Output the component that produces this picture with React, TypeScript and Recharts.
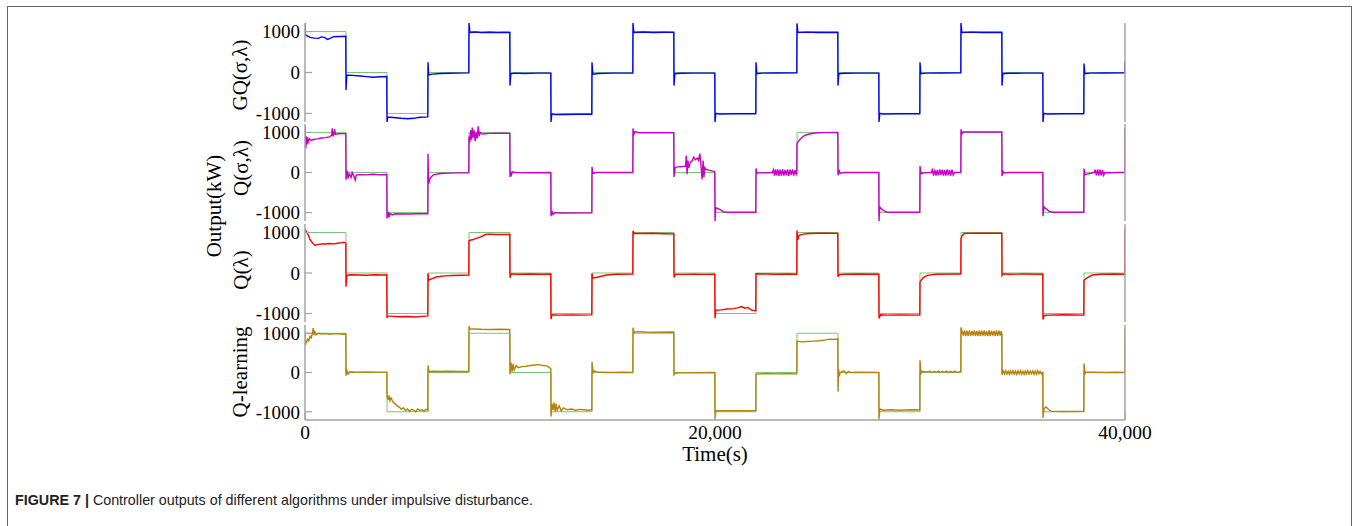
import React from 'react';
import { LineChart, Line, XAxis, YAxis } from 'recharts';

type P = [number, number];

// Reference (green) step levels, one per 2000 s interval
const REF_LEVELS = [1000, 0, -1000, 0, 1000, 0, -1000, 0, 1000, 0, -1000, 0, 1000, 0, -1000, 0, 1000, 0, -1000, 0];
const STEP = 2000;

const X_TICKS = [0, 20000, 40000];
const X_TICK_LABELS = ['0', '20,000', '40,000'];
const Y_TICKS = [-1000, 0, 1000];

const gqPts: P[] = [
  [0, 1210], [20, 920], [250, 860], [450, 840], [650, 835], [800, 870], [950, 860], [1100, 810], [1250, 840], [1400, 875], [1700, 880], [1990, 885],
  [2000, -430], [2040, -60], [2300, -70], [2700, -85], [3000, -100], [3300, -115], [3700, -105], [3990, -100],
  [4000, -1210], [4040, -1090], [4300, -1100], [4700, -1120], [5000, -1130], [5300, -1120], [5600, -1095], [5990, -1085],
  [6000, 250], [6030, -60], [6200, -40], [6600, -25], [7000, -20], [7500, -15], [7990, -10],
  [8000, 1210], [8040, 980], [8300, 990], [8600, 975], [9000, 985], [9400, 975], [9700, 982], [9990, 975],
  [10000, -320], [10040, -30], [10200, -15], [10700, -25], [11300, -15], [11990, -15],
  [12000, -1210], [12040, -1010], [12200, -1030], [12600, -1025], [13300, -1020], [13990, -1020],
  [14000, 250], [14040, -40], [14300, -25], [15000, -15], [15990, -15],
  [16000, 1210], [16040, 980], [16500, 990], [17000, 978], [17500, 985], [17990, 980],
  [18000, -320], [18040, -30], [18300, -20], [19000, -15], [19990, -15],
  [20000, -1210], [20040, -1000], [20200, -1015], [21000, -1010], [21990, -1010],
  [22000, 250], [22040, -30], [22300, -15], [23000, -12], [23990, -10],
  [24000, 1200], [24040, 975], [24500, 988], [25000, 978], [25990, 980],
  [26000, -320], [26040, -30], [26300, -20], [27000, -15], [27990, -15],
  [28000, -1210], [28040, -1000], [28200, -1015], [29000, -1010], [29990, -1010],
  [30000, 250], [30040, -30], [30300, -15], [31000, -12], [31990, -10],
  [32000, 1210], [32040, 975], [32500, 988], [33000, 978], [33990, 980],
  [34000, -320], [34040, -30], [34300, -20], [35000, -15], [35990, -15],
  [36000, -1210], [36040, -1000], [36200, -1015], [37000, -1010], [37990, -1010],
  [38000, 220], [38040, -30], [38300, -15], [39000, -12], [39990, -10],
  [40000, 250],
];

const qslPts: P[] = [
  [0, 1150], [10, 850], [40, 600], [60, 900], [90, 700], [120, 880], [160, 760], [220, 840], [300, 800], [450, 830], [600, 840], [800, 860], [1000, 870], [1200, 890], [1300, 930], [1330, 1100], [1360, 900], [1400, 960], [1450, 1080], [1480, 950], [1600, 965], [1800, 970], [1990, 970],
  [2000, -180], [2050, 50], [2100, -150], [2150, -30], [2250, -120], [2300, 0], [2380, -90], [2450, -190], [2500, -60], [2700, -55], [3000, -60], [3300, -45], [3600, -55], [3990, -50],
  [4000, -1150], [4060, -980], [4100, -1120], [4150, -1020], [4250, -1060], [4400, -1030], [5000, -1035], [5500, -1030], [5990, -1030],
  [6000, 470], [6030, -280], [6100, -150], [6250, -60], [6600, -25], [7000, -15], [7500, -10], [7990, -5],
  [8000, 900], [8040, 750], [8080, 1050], [8120, 820], [8160, 1120], [8200, 870], [8250, 1050], [8300, 780], [8350, 1000], [8400, 850], [8450, 1150], [8500, 900], [8550, 1000], [8650, 960], [9000, 975], [9500, 980], [9990, 975],
  [10000, -110], [10040, 30], [10070, -60], [10120, 10], [10300, 0], [11000, -5], [11990, 0],
  [12000, -1090], [12050, -960], [12100, -1050], [12200, -1000], [12400, -1010], [13990, -1005],
  [14000, 140], [14040, -20], [14200, 0], [15990, 0],
  [16000, 1100], [16040, 950], [16100, 1020], [16300, 990], [17990, 990],
  [18000, -110], [18060, 130], [18200, 140], [18400, 150], [18560, 160], [18600, 420], [18640, -40], [18680, 300], [18720, 120], [18800, 260], [18900, 300], [18950, 380], [19050, 320], [19130, 360], [19200, 300], [19260, 470], [19300, 280], [19370, -170], [19420, 300], [19460, -120], [19500, 120], [19560, 80], [19700, 60], [19850, 40], [19990, 20],
  [20000, -1210], [20040, -880], [20150, -900], [20300, -940], [20400, -980], [20600, -990], [21990, -990],
  [22000, 100], [22050, -20], [22150, -10], [22500, -5], [22800, 0], [22850, 70], [22900, -80], [22950, 75], [23000, -70], [23060, 80], [23120, -85], [23180, 70], [23240, -75], [23300, 80], [23360, -80], [23420, 65], [23480, -70], [23540, 75], [23600, -85], [23660, 70], [23720, -60], [23780, 75], [23840, -80], [23900, 60], [23960, -50], [23990, 0],
  [24000, 720], [24100, 800], [24250, 880], [24400, 930], [24600, 960], [24900, 985], [25300, 995], [25990, 1000],
  [26000, -70], [26060, 40], [26100, -20], [26300, 0], [27990, 0],
  [28000, -1210], [28040, -860], [28100, -900], [28250, -960], [28400, -990], [29990, -990],
  [30000, 160], [30050, -30], [30200, -5], [30550, 0], [30600, 70], [30660, -75], [30720, 70], [30780, -80], [30840, 60], [30900, -70], [30960, 75], [31020, -60], [31080, 70], [31140, -75], [31200, 60], [31260, -80], [31320, 75], [31380, -70], [31440, 65], [31500, -75], [31560, 70], [31620, -60], [31680, 0], [31990, 0],
  [32000, 1080], [32040, 960], [32100, 1010], [32400, 1010], [33990, 1010],
  [34000, -90], [34050, 30], [34100, -10], [34300, 0], [35990, 0],
  [36000, -1090], [36050, -860], [36120, -890], [36300, -970], [36500, -990], [37990, -990],
  [38000, 100], [38040, -60], [38150, -40], [38350, -20], [38500, 0], [38540, 70], [38600, -70], [38660, 75], [38720, -75], [38780, 70], [38840, -80], [38900, 65], [38960, -70], [39020, 0], [39300, -5], [39700, 0], [39990, 0],
  [40000, 1100],
];

const qlPts: P[] = [
  [0, 1080], [50, 1040], [150, 950], [250, 820], [400, 720], [500, 680], [600, 700], [800, 720], [1000, 715], [1200, 730], [1400, 720], [1600, 735], [1800, 750], [1900, 760], [1990, 735],
  [2000, -340], [2040, -60], [2200, -45], [2600, -50], [3000, -55], [3400, -45], [3800, -50], [3990, -50],
  [4000, -1110], [4050, -1060], [4300, -1070], [4600, -1080], [5000, -1075], [5400, -1085], [5700, -1070], [5990, -1060],
  [6000, -10], [6030, -180], [6150, -150], [6400, -100], [6800, -70], [7200, -60], [7600, -55], [7990, -50],
  [8000, 800], [8150, 820], [8400, 860], [8600, 900], [8800, 950], [9000, 960], [9300, 950], [9600, 955], [9990, 950],
  [10000, -120], [10050, -20], [10300, -30], [11000, -25], [11600, -30], [11990, -25],
  [12000, -1140], [12050, -1030], [12400, -1040], [13000, -1035], [13600, -1040], [13990, -1035],
  [14000, -10], [14030, -130], [14300, -100], [14700, -50], [15200, -30], [15990, -25],
  [16000, 1040], [16050, 980], [16500, 975], [17000, 980], [17500, 970], [17990, 965],
  [18000, -110], [18050, -30], [18500, -35], [19000, -30], [19500, -35], [19990, -30],
  [20000, -1120], [20040, -920], [20300, -910], [20600, -890], [20900, -880], [21100, -860], [21300, -830], [21450, -870], [21600, -850], [21800, -920], [21990, -930],
  [22000, -20], [22500, -25], [23000, -30], [23500, -25], [23990, -30],
  [24000, 1050], [24040, 820], [24100, 930], [24300, 960], [24600, 975], [25000, 980], [25500, 985], [25990, 980],
  [26000, -100], [26060, -40], [26300, -30], [27000, -25], [27990, -30],
  [28000, -1120], [28080, -1030], [28400, -1040], [29000, -1035], [29990, -1040],
  [30000, -220], [30150, -120], [30350, -60], [30800, -30], [31500, -25], [31990, -25],
  [32000, 850], [32060, 920], [32150, 975], [32600, 985], [33200, 980], [33990, 985],
  [34000, -60], [34050, -20], [34300, -30], [35000, -25], [35990, -30],
  [36000, -1150], [36060, -1050], [36300, -1040], [37000, -1030], [37990, -1040],
  [38000, -180], [38150, -120], [38400, -50], [38800, -30], [39400, -25], [39990, -30],
  [40000, 1090],
];

const qlearnPts: P[] = [
  [0, 1000], [10, 700], [60, 760], [120, 850], [180, 800], [240, 920], [300, 880], [360, 1000], [400, 1130], [430, 950], [480, 1040], [540, 960], [650, 1000], [800, 980], [1000, 990], [1200, 975], [1400, 985], [1600, 990], [1800, 975], [1990, 980],
  [2000, -80], [2050, 40], [2100, -40], [2200, 20], [2500, 10], [3000, 15], [3500, 10], [3990, 10],
  [4000, -600], [4060, -700], [4100, -580], [4150, -720], [4200, -650], [4300, -760], [4400, -800], [4500, -850], [4600, -880], [4700, -940], [4800, -900], [4900, -970], [5000, -930], [5100, -990], [5200, -940], [5300, -960], [5400, -1000], [5500, -930], [5600, -970], [5700, -950], [5800, -990], [5900, -940], [5990, -960],
  [6000, 180], [6050, 20], [6200, 30], [6600, 25], [7000, 30], [7500, 25], [7990, 30],
  [8000, 1180], [8050, 1100], [8200, 1110], [8600, 1100], [9000, 1095], [9500, 1100], [9990, 1095],
  [10000, -50], [10050, 250], [10100, 20], [10150, 220], [10200, 60], [10300, 180], [10400, 120], [10600, 150], [10800, 160], [11000, 180], [11200, 190], [11400, 200], [11600, 180], [11800, 170], [11990, 100],
  [12000, -1120], [12050, -800], [12100, -950], [12150, -760], [12200, -1000], [12250, -800], [12300, -960], [12400, -850], [12500, -980], [12600, -900], [12800, -950], [13000, -930], [13200, -960], [13400, -940], [13600, -950], [13800, -960], [13990, -950],
  [14000, 270], [14050, 0], [14100, 40], [14300, 5], [15000, 0], [15600, 5], [15990, 0],
  [16000, 1140], [16050, 1020], [16200, 1040], [16600, 1030], [17200, 1025], [17990, 1030],
  [18000, -60], [18060, -20], [18300, -10], [19000, -5], [19990, 0],
  [20000, -1190], [20040, -970], [20400, -975], [21000, -970], [21600, -975], [21990, -970],
  [22000, -40], [22500, -30], [23000, -35], [23500, -30], [23990, -35],
  [24000, 800], [24200, 780], [24500, 790], [24800, 800], [25100, 810], [25400, 830], [25600, 850], [25800, 840], [25990, 860],
  [26000, -490], [26030, 80], [26060, -100], [26100, 0], [26300, 40], [26400, -30], [26500, 30], [26600, 0], [27000, 5], [27990, 0],
  [28000, -1190], [28040, -930], [28200, -960], [28600, -950], [29000, -960], [29600, -950], [29990, -955],
  [30000, 310], [30050, -20], [30100, 30], [30300, 15], [30500, 35], [30600, 0], [30700, 30], [30800, 5], [30900, 35], [31000, 0], [31100, 30], [31200, 5], [31300, 35], [31400, 0], [31500, 30], [31600, 5], [31700, 35], [31800, 0], [31990, 20],
  [32000, 1150], [32060, 1040], [32110, 940], [32170, 1070], [32230, 930], [32290, 1065], [32350, 935], [32410, 1070], [32470, 925], [32530, 1060], [32590, 940], [32650, 1075], [32710, 930], [32770, 1060], [32830, 935], [32890, 1070], [32950, 930], [33010, 1065], [33070, 940], [33130, 1070], [33190, 925], [33250, 1060], [33310, 935], [33370, 1070], [33430, 930], [33490, 1065], [33550, 940], [33610, 1060], [33670, 930], [33730, 1070], [33790, 935], [33850, 1065], [33910, 940], [33960, 1050], [33990, 990],
  [34000, -60], [34060, 40], [34120, -35], [34180, 45], [34240, -40], [34300, 35], [34360, -45], [34420, 40], [34480, -30], [34540, 45], [34600, -40], [34660, 35], [34720, -45], [34780, 40], [34840, -35], [34900, 45], [34960, -40], [35020, 30], [35080, -45], [35140, 40], [35200, -35], [35260, 45], [35320, -40], [35380, 35], [35440, -30], [35500, 40], [35560, -45], [35620, 35], [35680, -40], [35740, 45], [35800, -35], [35860, 30], [35920, -40], [35990, 0],
  [36000, -1160], [36050, -920], [36150, -880], [36250, -930], [36400, -990], [37000, -995], [37990, -990],
  [38000, 230], [38050, -30], [38100, 10], [38400, 5], [39000, 0], [39600, 5], [39990, 0],
  [40000, 1110],
];

const toData = (pts: P[]) => pts.map(([t, v]) => ({ t, v }));
const refData = REF_LEVELS.flatMap((v, i) => [{ t: i * STEP, v }, { t: (i + 1) * STEP, v }]);

const SERIF = '"Liberation Serif", "Times New Roman", Times, serif';
const BORDER = '#a3a3a3';
const GREEN = '#74c874';
const PAD = 12;

type PanelProps = { top: number; h: number; pts: P[]; color: string; last?: boolean };

function Panel({ top, h, pts, color, last }: PanelProps) {
  const bottomH = last ? 45 : 0;
  return (
    <div style={{ position: 'absolute', left: 0, top: top - PAD }}>
      <LineChart width={1356} height={h + bottomH + 2 * PAD} margin={{ top: PAD, right: 0, bottom: PAD, left: 0 }}>
        <XAxis
          xAxisId="b"
          dataKey="t"
          type="number"
          domain={[0, 40000]}
          ticks={X_TICKS}
          interval={0}
          tickFormatter={(v: number) => X_TICK_LABELS[X_TICKS.indexOf(v)] ?? String(v)}
          height={bottomH}
          tickSize={-7}
          tickMargin={12}
          tick={last ? { fill: '#000', fontSize: 19.5, fontFamily: SERIF } : false}
          axisLine={{ stroke: BORDER, strokeWidth: 1.5 }}
          tickLine={{ stroke: BORDER, strokeWidth: 1.2 }}
          allowDataOverflow
        />
        <XAxis
          xAxisId="t"
          orientation="top"
          type="number"
          domain={[0, 40000]}
          ticks={X_TICKS}
          interval={0}
          height={0}
          tickSize={-7}
          tick={false}
          axisLine={{ stroke: BORDER, strokeWidth: 1.5 }}
          tickLine={{ stroke: BORDER, strokeWidth: 1.2 }}
          allowDataOverflow
        />
        <YAxis
          yAxisId="l"
          type="number"
          domain={[-1210, 1210]}
          ticks={Y_TICKS}
          interval={0}
          width={305}
          tickSize={-7}
          tickMargin={12}
          tick={{ fill: '#000', fontSize: 19, fontFamily: SERIF }}
          axisLine={{ stroke: BORDER, strokeWidth: 1.5 }}
          tickLine={{ stroke: BORDER, strokeWidth: 1.2 }}
          allowDataOverflow
        />
        <YAxis
          yAxisId="r"
          orientation="right"
          type="number"
          domain={[-1210, 1210]}
          ticks={Y_TICKS}
          interval={0}
          width={231}
          tickSize={-7}
          tick={false}
          axisLine={{ stroke: BORDER, strokeWidth: 1.5 }}
          tickLine={{ stroke: BORDER, strokeWidth: 1.2 }}
          allowDataOverflow
        />
        <Line xAxisId="b" yAxisId="l" data={refData} dataKey="v" type="linear" stroke={GREEN} strokeWidth={1} dot={false} activeDot={false} isAnimationActive={false} />
        <Line xAxisId="b" yAxisId="l" data={toData(pts)} dataKey="v" type="linear" stroke={color} strokeWidth={1.4} dot={false} activeDot={false} isAnimationActive={false} />
      </LineChart>
    </div>
  );
}

export default function App() {
  const titleStyle = { fontFamily: SERIF, fontSize: 21, fill: '#000' } as const;
  return (
    <div style={{ position: 'absolute', left: 0, top: 0, width: 1356, height: 526, overflow: 'hidden', background: '#fff' }}>
      <div style={{ position: 'absolute', left: 7, top: 6, width: 1345, height: 520, boxSizing: 'border-box', borderLeft: '1px solid #666', borderTop: '1px solid #666', borderRight: '1px solid #666' }} />
      <Panel top={23} h={99} pts={gqPts} color="#0000ff" />
      <Panel top={124} h={97} pts={qslPts} color="#c800c8" />
      <Panel top={224} h={98} pts={qlPts} color="#ff0000" />
      <Panel top={325} h={95} pts={qlearnPts} color="#b8800c" last />
      <svg width={1356} height={526} style={{ position: 'absolute', left: 0, top: 0, pointerEvents: 'none' }}>
        <text {...titleStyle} transform="translate(240,75) rotate(-90)" textAnchor="middle" dominantBaseline="central">GQ(σ,λ)</text>
        <text {...titleStyle} transform="translate(241,168) rotate(-90)" textAnchor="middle" dominantBaseline="central">Q(σ,λ)</text>
        <text {...titleStyle} transform="translate(214,206) rotate(-90)" textAnchor="middle" dominantBaseline="central">Output(kW)</text>
        <text {...titleStyle} transform="translate(241,270) rotate(-90)" textAnchor="middle" dominantBaseline="central">Q(λ)</text>
        <text {...titleStyle} transform="translate(240,372) rotate(-90)" textAnchor="middle" dominantBaseline="central">Q-learning</text>
        <text {...titleStyle} x={715} y={461} textAnchor="middle">Time(s)</text>
        <text x={15} y={505} style={{ fontFamily: '"Liberation Sans", Arial, Helvetica, sans-serif', fontSize: 14.3 }} fill="#222">
          <tspan fontWeight="bold">FIGURE 7 |</tspan>
          <tspan> Controller outputs of different algorithms under impulsive disturbance.</tspan>
        </text>
      </svg>
    </div>
  );
}
